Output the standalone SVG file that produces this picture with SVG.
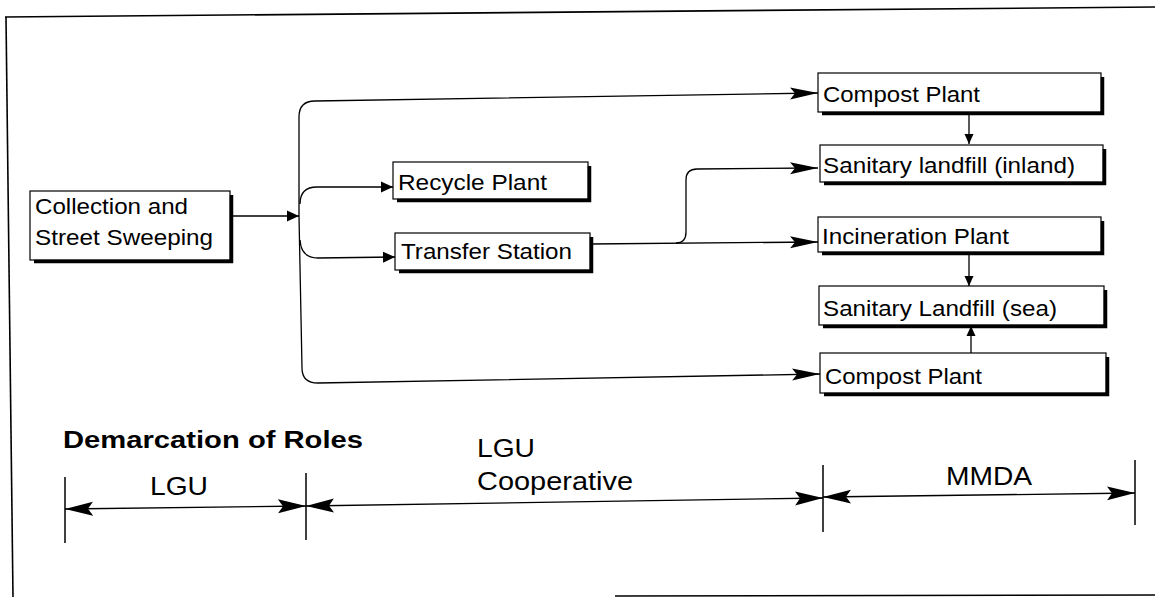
<svg xmlns="http://www.w3.org/2000/svg" width="1155" height="597" viewBox="0 0 1155 597">
  <style>
    .box { fill: #fff; stroke: #000; stroke-width: 1.2; }
    .shadow { fill: none; stroke: #000; stroke-width: 3.5; }
    .lbl { font-family: "Liberation Sans", Arial, sans-serif; font-size: 22px; fill: #000; }
    .dim { font-family: "Liberation Sans", Arial, sans-serif; font-size: 26px; fill: #000; }
    .title { font-family: "Liberation Sans", Arial, sans-serif; font-size: 23px; font-weight: bold; fill: #000; }
    .conn { fill: none; stroke: #000; stroke-width: 1.3; }
    .tick { fill: none; stroke: #000; stroke-width: 1.5; }
    .frame { fill: none; stroke: #000; stroke-width: 1.6; }
  </style>
  <defs>
    <marker id="arrowS" markerUnits="userSpaceOnUse" markerWidth="12" markerHeight="12" viewBox="0 0 12 12" refX="12" refY="6" orient="auto">
      <path d="M0,0.5 L12,6 L0,11.5 z" fill="#000"/>
    </marker>
    <marker id="arrowV" markerUnits="userSpaceOnUse" markerWidth="10" markerHeight="10" viewBox="0 0 10 10" refX="10" refY="5" orient="auto">
      <path d="M0,0.5 L10,5 L0,9.5 z" fill="#000"/>
    </marker>
    <marker id="arrowL" markerUnits="userSpaceOnUse" markerWidth="28" markerHeight="14" viewBox="0 0 28 14" refX="28" refY="7" orient="auto">
      <path d="M0,1 L28,7 L0,13 L5,7 z" fill="#000"/>
    </marker>
    <marker id="arrowD" markerUnits="userSpaceOnUse" markerWidth="28" markerHeight="16" viewBox="0 0 28 16" refX="28" refY="8" orient="auto-start-reverse">
      <path d="M0,1 L28,8 L0,15 L5,8 z" fill="#000"/>
    </marker>
  </defs>

  <rect x="0" y="0" width="1155" height="597" fill="#fff"/>

  <g id="frame">
    <path class="frame" d="M5,17 L1155,7"/>
    <path class="frame" d="M6,17 L13,597"/>
    <path class="frame" d="M615,596 L1155,595"/>
  </g>

  <g id="connectors">
    <path class="conn" d="M232,216 L299,216" marker-end="url(#arrowS)"/>
    <path class="conn" d="M299,216 L299,117 Q299,101 315,101 L818,93" marker-end="url(#arrowL)"/>
    <path class="conn" d="M299,216 L302,368 Q302,383 318,383 L820,374" marker-end="url(#arrowL)"/>
    <path class="conn" d="M300,204 Q300,187 317,187 L393,187" marker-end="url(#arrowS)"/>
    <path class="conn" d="M300,240 Q301,258 318,258 L395,257" marker-end="url(#arrowS)"/>
    <path class="conn" d="M590,244 L818,242" marker-end="url(#arrowL)"/>
    <path class="conn" d="M676,243 Q686,243 686,232 L686,180 Q686,169 697,169 L818,168" marker-end="url(#arrowL)"/>
    <path class="conn" d="M969,115 L969,144" marker-end="url(#arrowV)"/>
    <path class="conn" d="M969,253 L969,286" marker-end="url(#arrowV)"/>
    <path class="conn" d="M971,353 L971,326" marker-end="url(#arrowV)"/>
  </g>

  <g id="collection">
    <rect class="box" x="30" y="191" width="200" height="69"/>
    <polyline class="shadow" points="34,261.5 231.5,261.5 231.5,195"/>
    <text class="lbl" x="35" y="214" textLength="153" lengthAdjust="spacingAndGlyphs">Collection and</text>
    <text class="lbl" x="35" y="245" textLength="178" lengthAdjust="spacingAndGlyphs">Street Sweeping</text>
  </g>

  <g id="recycle">
    <rect class="box" x="393" y="162" width="195" height="37"/>
    <polyline class="shadow" points="397,200.5 589.5,200.5 589.5,166"/>
    <text class="lbl" x="398" y="190" textLength="149" lengthAdjust="spacingAndGlyphs">Recycle Plant</text>
  </g>

  <g id="transfer">
    <rect class="box" x="395" y="233" width="195" height="37"/>
    <polyline class="shadow" points="399,271.5 591.5,271.5 591.5,237"/>
    <text class="lbl" x="401" y="259" textLength="171" lengthAdjust="spacingAndGlyphs">Transfer Station</text>
  </g>

  <g id="compost1">
    <rect class="box" x="818" y="73" width="283" height="39"/>
    <polyline class="shadow" points="822,113.5 1102.5,113.5 1102.5,77"/>
    <text class="lbl" x="823" y="102" textLength="157" lengthAdjust="spacingAndGlyphs">Compost Plant</text>
  </g>

  <g id="landfill_inland">
    <rect class="box" x="820" y="145" width="283" height="37"/>
    <polyline class="shadow" points="824,183.5 1104.5,183.5 1104.5,149"/>
    <text class="lbl" x="823" y="173" textLength="252" lengthAdjust="spacingAndGlyphs">Sanitary landfill (inland)</text>
  </g>

  <g id="incineration">
    <rect class="box" x="818" y="217" width="283" height="35"/>
    <polyline class="shadow" points="822,253.5 1102.5,253.5 1102.5,221"/>
    <text class="lbl" x="822" y="244" textLength="187" lengthAdjust="spacingAndGlyphs">Incineration Plant</text>
  </g>

  <g id="landfill_sea">
    <rect class="box" x="819" y="286" width="285" height="39"/>
    <polyline class="shadow" points="823,326.5 1105.5,326.5 1105.5,290"/>
    <text class="lbl" x="823" y="316" textLength="234" lengthAdjust="spacingAndGlyphs">Sanitary Landfill (sea)</text>
  </g>

  <g id="compost2">
    <rect class="box" x="820" y="353" width="286" height="40"/>
    <polyline class="shadow" points="824,394.5 1107.5,394.5 1107.5,357"/>
    <text class="lbl" x="825" y="384" textLength="157" lengthAdjust="spacingAndGlyphs">Compost Plant</text>
  </g>

  <g id="demarcation">
    <text class="title" x="63" y="448" textLength="300" lengthAdjust="spacingAndGlyphs">Demarcation of Roles</text>
    <path class="tick" d="M65,477 L65,543"/>
    <path class="tick" d="M306,473 L306,540"/>
    <path class="tick" d="M823,465 L823,532"/>
    <path class="tick" d="M1135,460 L1135,525"/>
    <path class="conn" d="M65,509 L306,506" marker-start="url(#arrowD)" marker-end="url(#arrowD)"/>
    <path class="conn" d="M306,506 L823,498" marker-start="url(#arrowD)" marker-end="url(#arrowD)"/>
    <path class="conn" d="M823,497 L1135,493" marker-start="url(#arrowD)" marker-end="url(#arrowD)"/>
    <text class="dim" x="150" y="495" textLength="58" lengthAdjust="spacingAndGlyphs">LGU</text>
    <text class="dim" x="477" y="457" textLength="58" lengthAdjust="spacingAndGlyphs">LGU</text>
    <text class="dim" x="477" y="490" textLength="156" lengthAdjust="spacingAndGlyphs">Cooperative</text>
    <text class="dim" x="946" y="485" textLength="86" lengthAdjust="spacingAndGlyphs">MMDA</text>
  </g>
</svg>
